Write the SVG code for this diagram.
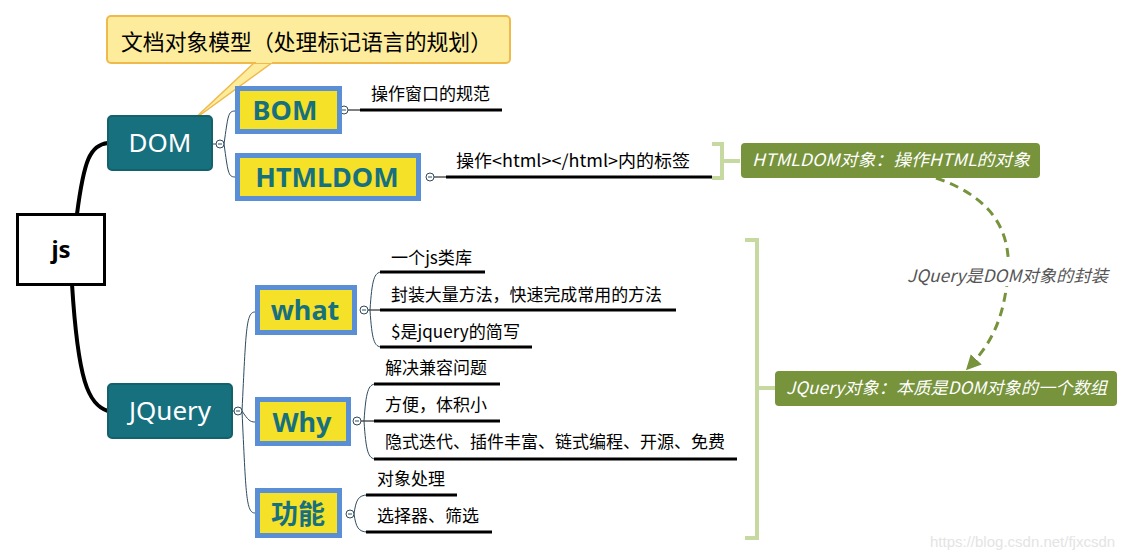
<svg xmlns="http://www.w3.org/2000/svg" width="1133" height="560" viewBox="0 0 1133 560">
<defs>
<style>
.cjk{font-family:"Microsoft YaHei","Noto Sans CJK SC","Noto Sans",sans-serif}
.main{fill:#17707e;stroke:#12616b;stroke-width:2}
.mainT{fill:#fff;font-size:26px;font-family:"Noto Sans","Noto Sans CJK SC",sans-serif}
.sub{fill:#f5e127;stroke:#5b8fd5;stroke-width:5}
.subT{fill:#17707e;font-size:27px;font-weight:bold;font-family:"Noto Sans","Noto Sans CJK SC",sans-serif}
.leaf{font-size:17px;fill:#000}
.uline{stroke:#000;stroke-width:3}
.thin{fill:none;stroke:#2e4a5e;stroke-width:1}
.knob{fill:#fff;stroke:#2e4a5e;stroke-width:1}
.green{fill:#77933c}
.greenT{fill:#fff;font-size:17px;font-style:italic}
.brk{fill:none;stroke:#c5d9a0;stroke-width:4}
</style>
<marker id="arr" viewBox="0 0 10 10" refX="8" refY="5" markerWidth="5" markerHeight="5" orient="auto"><path d="M0,0 L10,5 L0,10 z" fill="#77933c"/></marker>
</defs>
<rect width="1133" height="560" fill="#fff"/>

<g id="connectors">
<path d="M77,214 C84,160 90,145 108,143" fill="none" stroke="#000" stroke-width="4"/>
<path d="M72,284 C78,380 88,405 108,411" fill="none" stroke="#000" stroke-width="4"/>
<line x1="213" y1="144" x2="216" y2="144" stroke="#2e4a5e"/>
<path d="M224,144 C228,116 228,111 235,111" class="thin"/>
<path d="M224,144 C228,172 228,177 235,177" class="thin"/>
<line x1="233" y1="411" x2="234" y2="411" stroke="#2e4a5e"/>
<path d="M242,411 C246,330 246,312 255,312" class="thin"/>
<path d="M242,411 C248,420 250,422 255,422" class="thin"/>
<path d="M242,411 C246,495 246,513 255,513" class="thin"/>
<line x1="348" y1="110" x2="362" y2="110" stroke="#000"/>
<line x1="360" y1="110" x2="502" y2="110" class="uline"/>
<line x1="434" y1="177" x2="448" y2="177" stroke="#000"/>
<line x1="446" y1="177" x2="712" y2="177" class="uline"/>
<line x1="368" y1="310" x2="380" y2="310" stroke="#000"/>
<path d="M370,310 C372,280 374,272 382,272" class="thin" stroke="#000"/>
<path d="M370,310 C372,340 374,347 382,347" class="thin" stroke="#000"/>
<line x1="380" y1="272" x2="485" y2="272" class="uline"/>
<line x1="380" y1="310" x2="676" y2="310" class="uline"/>
<line x1="380" y1="347" x2="532" y2="347" class="uline"/>
<line x1="361" y1="421" x2="374" y2="421" stroke="#000"/>
<path d="M364,421 C366,392 368,384 376,384" class="thin" stroke="#000"/>
<path d="M364,421 C366,451 368,459 376,459" class="thin" stroke="#000"/>
<line x1="374" y1="384" x2="500" y2="384" class="uline"/>
<line x1="374" y1="421" x2="500" y2="421" class="uline"/>
<line x1="374" y1="459" x2="737" y2="459" class="uline"/>
<path d="M354,514 C356,500 358,495 368,495" class="thin" stroke="#000"/>
<path d="M354,514 C356,527 358,532 368,532" class="thin" stroke="#000"/>
<line x1="366" y1="495" x2="457" y2="495" class="uline"/>
<line x1="366" y1="532" x2="492" y2="532" class="uline"/>
<g>
<circle cx="220" cy="144" r="4" class="knob"/><line x1="218" y1="144" x2="222" y2="144" stroke="#2e4a5e"/>
<circle cx="344" cy="110" r="4" class="knob"/><line x1="342" y1="110" x2="346" y2="110" stroke="#2e4a5e"/>
<circle cx="430" cy="177" r="4" class="knob"/><line x1="428" y1="177" x2="432" y2="177" stroke="#2e4a5e"/>
<circle cx="238" cy="411" r="4" class="knob"/><line x1="236" y1="411" x2="240" y2="411" stroke="#2e4a5e"/>
<circle cx="364" cy="310" r="4" class="knob"/><line x1="362" y1="310" x2="366" y2="310" stroke="#2e4a5e"/>
<circle cx="357" cy="421" r="4" class="knob"/><line x1="355" y1="421" x2="359" y2="421" stroke="#2e4a5e"/>
<circle cx="350" cy="514" r="4" class="knob"/><line x1="348" y1="514" x2="352" y2="514" stroke="#2e4a5e"/>
</g>
<path d="M712,144 H722 V178 H712 M722,161 H740" class="brk"/>
<path d="M745,240 H757 V538 H745 M757,388 H775" class="brk"/>
<path d="M936,178 C1000,200 1015,240 1006,290 C1000,330 985,350 968,368" fill="none" stroke="#77933c" stroke-width="3" stroke-dasharray="9,6" marker-end="url(#arr)"/>
<rect x="905" y="262" width="205" height="24" fill="#fff"/>
<text x="907" y="282" class="cjk" font-size="17" font-style="italic" fill="#555" textLength="201" lengthAdjust="spacingAndGlyphs">JQuery是DOM对象的封装</text>
</g>

<g id="callout">
<path d="M255,62 L192,121 L273,62 Z" fill="#fcec9c" stroke="#f0b94c" stroke-width="1.5"/>
<rect x="107" y="16" width="403" height="47" rx="4" fill="#fcec9c" stroke="#f0b94c" stroke-width="2"/>
<rect x="256" y="58" width="16" height="5" fill="#fcec9c"/>
<text x="121" y="50" class="cjk" font-size="22" fill="#000" textLength="371" lengthAdjust="spacingAndGlyphs">文档对象模型（处理标记语言的规划）</text>
</g>

<g id="js">
<rect x="17.5" y="214.5" width="87" height="70" fill="#fff" stroke="#000" stroke-width="3"/>
<text x="61" y="258" text-anchor="middle" font-family="Noto Sans, sans-serif" font-size="24" font-weight="bold">js</text>
</g>

<g id="DOM">
<rect x="108" y="116" width="104" height="54" rx="4" class="main"/>
<text x="160" y="152" text-anchor="middle" class="mainT">DOM</text>
</g>
<g id="JQuery">
<rect x="108" y="384" width="124" height="54" rx="4" class="main"/>
<text x="170" y="420" text-anchor="middle" class="mainT">JQuery</text>
</g>

<g id="BOM">
<rect x="237.5" y="88.5" width="102" height="43" class="sub"/>
<text x="285" y="120" text-anchor="middle" class="subT">BOM</text>
</g>
<g id="HTMLDOM">
<rect x="237.5" y="155.5" width="181" height="43" class="sub"/>
<text x="327" y="187" text-anchor="middle" class="subT">HTMLDOM</text>
</g>
<g id="what">
<rect x="257.5" y="287.5" width="97" height="45" class="sub"/>
<text x="305" y="320" text-anchor="middle" class="subT">what</text>
</g>
<g id="Why">
<rect x="257.5" y="399.5" width="91" height="44" class="sub"/>
<text x="302" y="432" text-anchor="middle" class="subT">Why</text>
</g>
<g id="gongneng">
<rect x="257.5" y="490.5" width="82" height="45" class="sub"/>
<text x="298" y="524" text-anchor="middle" class="subT cjk">功能</text>
</g>

<g id="leaves" class="cjk">
<text x="371" y="100" class="leaf" textLength="119" lengthAdjust="spacingAndGlyphs">操作窗口的规范</text>
<text x="456" y="167" class="leaf" textLength="234" lengthAdjust="spacingAndGlyphs">操作&lt;html&gt;&lt;/html&gt;内的标签</text>
<text x="391" y="264" class="leaf" textLength="81" lengthAdjust="spacingAndGlyphs">一个js类库</text>
<text x="391" y="301" class="leaf" textLength="271" lengthAdjust="spacingAndGlyphs">封装大量方法，快速完成常用的方法</text>
<text x="391" y="338" class="leaf" textLength="129" lengthAdjust="spacingAndGlyphs">$是jquery的简写</text>
<text x="385" y="374" class="leaf" textLength="102" lengthAdjust="spacingAndGlyphs">解决兼容问题</text>
<text x="385" y="411" class="leaf" textLength="102" lengthAdjust="spacingAndGlyphs">方便，体积小</text>
<text x="385" y="448" class="leaf" textLength="340" lengthAdjust="spacingAndGlyphs">隐式迭代、插件丰富、链式编程、开源、免费</text>
<text x="377" y="485" class="leaf" textLength="68" lengthAdjust="spacingAndGlyphs">对象处理</text>
<text x="377" y="522" class="leaf" textLength="102" lengthAdjust="spacingAndGlyphs">选择器、筛选</text>
</g>

<g id="htmldomObj">
<rect x="741" y="143" width="299" height="35" rx="4" class="green"/>
<text x="752" y="166" class="cjk greenT" textLength="278" lengthAdjust="spacingAndGlyphs">HTMLDOM对象：操作HTML的对象</text>
</g>
<g id="jqueryObj">
<rect x="775" y="371" width="342" height="35" rx="4" class="green"/>
<text x="786" y="394" class="cjk greenT" textLength="321" lengthAdjust="spacingAndGlyphs">JQuery对象：本质是DOM对象的一个数组</text>
</g>

<text x="930" y="547" font-family="Liberation Sans, Arial, sans-serif" font-size="15" fill="#e4e4e4">https://blog.csdn.net/fjxcsdn</text>
</svg>
